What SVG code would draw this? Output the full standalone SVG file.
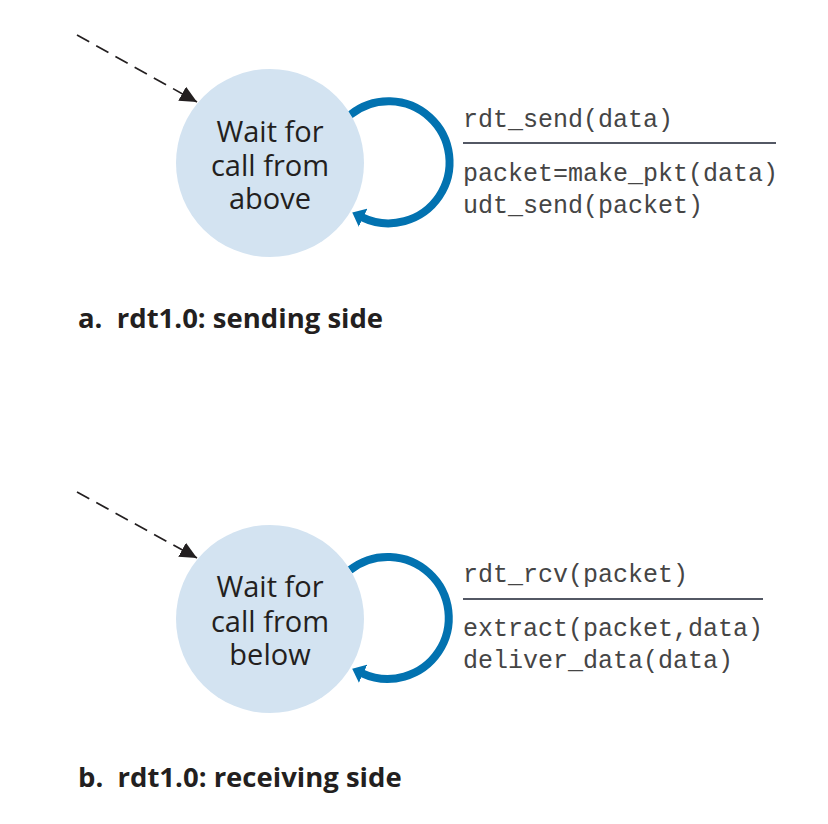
<svg xmlns="http://www.w3.org/2000/svg" width="828" height="824" viewBox="0 0 828 824">
<defs>
<style>
.state{fill:#d3e3f1;}
.stxt{font-family:"Open Sans","Noto Sans",sans-serif;font-size:29px;fill:#231f20;text-anchor:middle;}
.mono{font-family:"Liberation Mono","DejaVu Sans Mono",monospace;font-size:25px;fill:#454545;}
.cap{font-family:"Open Sans","Noto Sans",sans-serif;font-size:27.5px;font-weight:bold;fill:#231f20;}
.rule{stroke:#1a2030;stroke-width:1.6;}
.init{stroke:#231f20;stroke-width:1.7;stroke-dasharray:14 8;fill:none;}
.loop{stroke:#0272b0;stroke-width:8;fill:none;}
</style>
<marker id="blk" markerUnits="userSpaceOnUse" viewBox="0 0 17 16" refX="17" refY="8" markerWidth="17" markerHeight="16" orient="auto">
<path d="M0,0 L17,8 L0,16 z" fill="#231f20"/>
</marker>
<marker id="blu" markerUnits="userSpaceOnUse" viewBox="0 0 12 20" refX="1" refY="10" markerWidth="12" markerHeight="20" orient="auto">
<path d="M0,0 L12,10 L0,20 z" fill="#0272b0"/>
</marker>
</defs>
<g id="connectors">
<line class="init" x1="77" y1="35" x2="197" y2="102" marker-end="url(#blk)"/>
<path class="loop" d="M350,115 A61,61 0 1 1 362.2,217.3" marker-end="url(#blu)"/>
<line class="init" x1="77" y1="492" x2="197" y2="558" marker-end="url(#blk)"/>
<path class="loop" d="M350,570 A61,61 0 1 1 362.2,673.3" marker-end="url(#blu)"/>
</g>
<g id="sender">
<circle class="state" cx="270" cy="163" r="94"/>
<text class="stxt" x="270" y="142">Wait for</text>
<text class="stxt" x="270" y="176">call from</text>
<text class="stxt" x="270" y="209">above</text>
</g>
<g id="sender-label">
<text class="mono" x="463" y="127">rdt_send(data)</text>
<line class="rule" x1="463" y1="143" x2="776" y2="143"/>
<text class="mono" x="463" y="181">packet=make_pkt(data)</text>
<text class="mono" x="463" y="213">udt_send(packet)</text>
</g>
<g id="receiver">
<circle class="state" cx="270" cy="619" r="94"/>
<text class="stxt" x="270" y="597">Wait for</text>
<text class="stxt" x="270" y="632">call from</text>
<text class="stxt" x="270" y="665">below</text>
</g>
<g id="receiver-label">
<text class="mono" x="463" y="582">rdt_rcv(packet)</text>
<line class="rule" x1="463" y1="599" x2="763" y2="599"/>
<text class="mono" x="463" y="636">extract(packet,data)</text>
<text class="mono" x="463" y="668">deliver_data(data)</text>
</g>
<text class="cap" x="78" y="328" xml:space="preserve">a.  rdt1.0: sending side</text>
<text class="cap" x="78" y="787" xml:space="preserve">b.  rdt1.0: receiving side</text>
</svg>
